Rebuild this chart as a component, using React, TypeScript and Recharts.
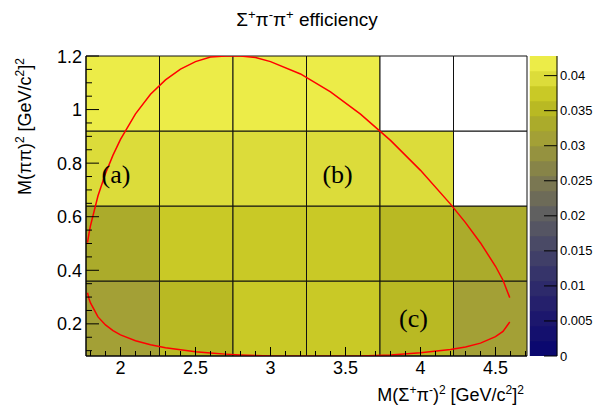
import React from "react";
import { ComposedChart, BarChart, Bar, XAxis, YAxis, Line, ReferenceArea, ReferenceDot } from "recharts";

const SANS = "'Liberation Sans', Arial, sans-serif";
const SERIF = "'Liberation Serif', 'Times New Roman', serif";

// bin edges
const xEdges = [1.77, 2.26, 2.75, 3.24, 3.73, 4.22, 4.71];
const yEdges = [0.08, 0.36, 0.64, 0.92, 1.2];

// efficiency per bin, one row per y bin (bottom to top), null = empty bin
const effRow1 = [0.031, 0.0353, 0.0372, 0.0376, 0.0352, 0.0305];
const effRow2 = [0.033, 0.0375, 0.0378, 0.0374, 0.0355, 0.0332];
const effRow3 = [0.0395, 0.04, 0.0398, 0.0397, 0.0393, null];
const effRow4 = [0.0425, 0.042, 0.0418, 0.0428, null, null];

// kinematic boundary
const upperBranch = [
  { x: 1.78, y: 0.503 }, { x: 1.79, y: 0.538 }, { x: 1.8, y: 0.567 }, { x: 1.85, y: 0.678 },
  { x: 1.9, y: 0.761 }, { x: 1.95, y: 0.83 }, { x: 2.0, y: 0.889 }, { x: 2.1, y: 0.984 },
  { x: 2.2, y: 1.057 }, { x: 2.3, y: 1.111 }, { x: 2.4, y: 1.151 }, { x: 2.5, y: 1.179 },
  { x: 2.6, y: 1.196 }, { x: 2.7, y: 1.2 }, { x: 2.8, y: 1.2 }, { x: 2.9, y: 1.194 },
  { x: 3.0, y: 1.179 }, { x: 3.2, y: 1.133 }, { x: 3.4, y: 1.066 }, { x: 3.6, y: 0.983 },
  { x: 3.8, y: 0.885 }, { x: 4.0, y: 0.773 }, { x: 4.2, y: 0.647 }, { x: 4.3, y: 0.578 },
  { x: 4.4, y: 0.502 }, { x: 4.5, y: 0.415 }, { x: 4.55, y: 0.363 }, { x: 4.595, y: 0.298 },
];
const lowerBranch = [
  { x: 1.78, y: 0.316 }, { x: 1.79, y: 0.294 }, { x: 1.8, y: 0.278 }, { x: 1.85, y: 0.226 },
  { x: 1.9, y: 0.196 }, { x: 1.95, y: 0.175 }, { x: 2.0, y: 0.159 }, { x: 2.1, y: 0.137 },
  { x: 2.2, y: 0.122 }, { x: 2.3, y: 0.111 }, { x: 2.4, y: 0.103 }, { x: 2.5, y: 0.096 },
  { x: 2.6, y: 0.091 }, { x: 2.7, y: 0.087 }, { x: 2.8, y: 0.084 }, { x: 2.9, y: 0.082 },
  { x: 3.0, y: 0.08 }, { x: 3.2, y: 0.079 }, { x: 3.4, y: 0.079 }, { x: 3.6, y: 0.08 },
  { x: 3.8, y: 0.084 }, { x: 4.0, y: 0.092 }, { x: 4.2, y: 0.104 }, { x: 4.3, y: 0.114 },
  { x: 4.4, y: 0.128 }, { x: 4.5, y: 0.152 }, { x: 4.55, y: 0.172 }, { x: 4.595, y: 0.207 },
];

const xTicks = [1.8, 1.9, 2, 2.1, 2.2, 2.3, 2.4, 2.5, 2.6, 2.7, 2.8, 2.9, 3, 3.1, 3.2, 3.3, 3.4, 3.5,
  3.6, 3.7, 3.8, 3.9, 4, 4.1, 4.2, 4.3, 4.4, 4.5, 4.6, 4.7];
const xMajor = [2, 2.5, 3, 3.5, 4, 4.5];
const yTicks = [0.1, 0.15, 0.2, 0.25, 0.3, 0.35, 0.4, 0.45, 0.5, 0.55, 0.6, 0.65, 0.7, 0.75, 0.8,
  0.85, 0.9, 0.95, 1, 1.05, 1.1, 1.15, 1.2];
const yMajor = [0.2, 0.4, 0.6, 0.8, 1, 1.2];
const zTicks = [0, 0.005, 0.01, 0.015, 0.02, 0.025, 0.03, 0.035, 0.04];
const zMax = 0.0428;

// palette, bottom to top
const palette = [
  "#0b086f", "#14106e", "#1c176d", "#25206c", "#2d2a6b", "#36346a", "#403f68", "#4a4a66",
  "#555563", "#606060", "#6d6b58", "#7a7752", "#878448", "#95923f", "#a3a036", "#abab2b",
  "#b9b923", "#c9c926", "#dcdc3a", "#ecec48",
];

const isIn = (arr: number[], v: number) => arr.some((m) => Math.abs(m - v) < 1e-6);
const colorOf = (v: number) => palette[Math.min(palette.length - 1, Math.floor((v / zMax) * palette.length))];

const cells = [effRow1, effRow2, effRow3, effRow4].flatMap((row, j) =>
  row.map((v, i) => ({ x1: xEdges[i], x2: xEdges[i + 1], y1: yEdges[j], y2: yEdges[j + 1], v }))
);
// colour scale: one stacked column, one segment per palette level
const zRow: Record<string, any> = { k: "z" };
palette.forEach((_, i) => { zRow["b" + i] = zMax / palette.length; });
const zData = [zRow];

function XTickBottom(props: any) {
  const { x, y, payload } = props;
  const major = isIn(xMajor, payload.value);
  return (
    <g>
      <line x1={x} x2={x} y1={y} y2={y - (major ? 9 : 5)} stroke="#000" />
      {major && (
        <text x={x} y={y + 18} textAnchor="middle" fontSize={18} fontFamily={SANS} fill="#000">
          {String(payload.value)}
        </text>
      )}
    </g>
  );
}

function XTickTop(props: any) {
  const { x, y, payload } = props;
  const major = isIn(xMajor, payload.value);
  return <line x1={x} x2={x} y1={y} y2={y + (major ? 9 : 5)} stroke="#000" />;
}

function YTickLeft(props: any) {
  const { x, y, payload } = props;
  const major = isIn(yMajor, payload.value);
  return (
    <g>
      <line x1={x} x2={x + (major ? 13 : 6)} y1={y} y2={y} stroke="#000" />
      {major && (
        <text x={x - 4} y={y + 6.5} textAnchor="end" fontSize={18} fontFamily={SANS} fill="#000">
          {String(payload.value)}
        </text>
      )}
    </g>
  );
}

function YTickRight(props: any) {
  const { x, y, payload } = props;
  const major = isIn(yMajor, payload.value);
  return <line x1={x} x2={x - (major ? 13 : 6)} y1={y} y2={y} stroke="#000" />;
}

function ZTick(props: any) {
  const { x, y, payload } = props;
  return (
    <g>
      <line x1={x - 13} x2={x} y1={y} y2={y} stroke="#000" />
      <text x={x + 3} y={y + 4.5} textAnchor="start" fontSize={13} fontFamily={SANS} fill="#000">
        {String(payload.value)}
      </text>
    </g>
  );
}

export default function App() {
  return (
    <div style={{ position: "absolute", left: 0, top: 0, width: 594, height: 408, background: "#fff" }}>
      <div style={{ position: "absolute", left: 0, top: 0 }}>
        <ComposedChart width={594} height={408} margin={{ top: 56, right: 67, bottom: 22, left: 36 }}>
          {cells.map((c, k) => (
            <ReferenceArea
              key={k}
              xAxisId="b"
              yAxisId="l"
              x1={c.x1}
              x2={c.x2}
              y1={c.y1}
              y2={c.y2}
              fill={c.v == null ? "#ffffff" : colorOf(c.v)}
              fillOpacity={1}
              stroke="#111"
              strokeWidth={1}
              ifOverflow="visible"
            />
          ))}
          <XAxis xAxisId="b" type="number" dataKey="x" domain={[1.77, 4.71]} allowDataOverflow
            ticks={xTicks} interval={0} tickSize={0} tickMargin={0} height={30}
            tickLine={false} axisLine={{ stroke: "#000" }} tick={(p: any) => <XTickBottom {...p} />} />
          <XAxis xAxisId="t" orientation="top" type="number" dataKey="x" domain={[1.77, 4.71]} allowDataOverflow
            ticks={xTicks} interval={0} tickSize={0} tickMargin={0} height={0}
            tickLine={false} axisLine={{ stroke: "#000" }} tick={(p: any) => <XTickTop {...p} />} />
          <YAxis yAxisId="l" type="number" domain={[0.08, 1.2]} allowDataOverflow
            ticks={yTicks} interval={0} tickSize={0} tickMargin={0} width={50}
            tickLine={false} axisLine={{ stroke: "#000" }} tick={(p: any) => <YTickLeft {...p} />} />
          <YAxis yAxisId="r" orientation="right" type="number" domain={[0.08, 1.2]} allowDataOverflow
            ticks={yTicks} interval={0} tickSize={0} tickMargin={0} width={0}
            tickLine={false} axisLine={{ stroke: "#000" }} tick={(p: any) => <YTickRight {...p} />} />
          <Line xAxisId="b" yAxisId="l" data={upperBranch} dataKey="y" type="linear" stroke="#ff0000"
            strokeWidth={1.5} dot={false} isAnimationActive={false} />
          <Line xAxisId="b" yAxisId="l" data={lowerBranch} dataKey="y" type="linear" stroke="#ff0000"
            strokeWidth={1.5} dot={false} isAnimationActive={false} />
          <ReferenceDot xAxisId="b" yAxisId="l" x={1.97} y={0.762} r={0} fill="none" stroke="none"
            label={{ value: "(a)", position: "center", fontSize: 26, fontFamily: SERIF, fill: "#000" }} />
          <ReferenceDot xAxisId="b" yAxisId="l" x={3.447} y={0.759} r={0} fill="none" stroke="none"
            label={{ value: "(b)", position: "center", fontSize: 26, fontFamily: SERIF, fill: "#000" }} />
          <ReferenceDot xAxisId="b" yAxisId="l" x={3.953} y={0.222} r={0} fill="none" stroke="none"
            label={{ value: "(c)", position: "center", fontSize: 26, fontFamily: SERIF, fill: "#000" }} />
        </ComposedChart>
      </div>
      <div style={{ position: "absolute", left: 0, top: 0 }}>
        <BarChart width={594} height={408} data={zData} barCategoryGap={0} barGap={0}
          margin={{ top: 56, right: 0, bottom: 52, left: 530 }}>
          <XAxis dataKey="k" type="category" hide />
          <YAxis orientation="right" type="number" domain={[0, zMax]} allowDataOverflow
            ticks={zTicks} interval={0} tickSize={0} tickMargin={0} width={37}
            tickLine={false} axisLine={{ stroke: "#000" }} tick={(p: any) => <ZTick {...p} />} />
          {palette.map((c, i) => (
            <Bar key={i} dataKey={"b" + i} stackId="z" fill={c} stroke={c} strokeWidth={0.5}
              isAnimationActive={false} />
          ))}
        </BarChart>
      </div>
      <svg width={594} height={408} style={{ position: "absolute", left: 0, top: 0, pointerEvents: "none" }}>
        <text x={307} y={26} textAnchor="middle" fontSize={19} fontFamily={SANS} fill="#000">
          Σ<tspan fontSize={13} dy={-7}>+</tspan>
          <tspan dy={7}>π</tspan>
          <tspan fontSize={13} dy={-7}>-</tspan>
          <tspan dy={7}>π</tspan>
          <tspan fontSize={13} dy={-7}>+</tspan>
          <tspan dy={7}> efficiency</tspan>
        </text>
        <text x={524} y={401} textAnchor="end" fontSize={18} fontFamily={SANS} fill="#000">
          M(Σ<tspan fontSize={12} dy={-7}>+</tspan>
          <tspan dy={7}>π</tspan>
          <tspan fontSize={12} dy={-7}>-</tspan>
          <tspan dy={7}>)</tspan>
          <tspan fontSize={12} dy={-7}>2</tspan>
          <tspan dy={7}> [GeV/c</tspan>
          <tspan fontSize={12} dy={-7}>2</tspan>
          <tspan dy={7}>]</tspan>
          <tspan fontSize={12} dy={-7}>2</tspan>
        </text>
        <text transform="translate(31,58) rotate(-90)" textAnchor="end" fontSize={18} fontFamily={SANS} fill="#000">
          M(ππ)<tspan fontSize={12} dy={-7}>2</tspan>
          <tspan dy={7}> [GeV/c</tspan>
          <tspan fontSize={12} dy={-7}>2</tspan>
          <tspan dy={7}>]</tspan>
          <tspan fontSize={12} dy={-7}>2</tspan>
        </text>
      </svg>
    </div>
  );
}
